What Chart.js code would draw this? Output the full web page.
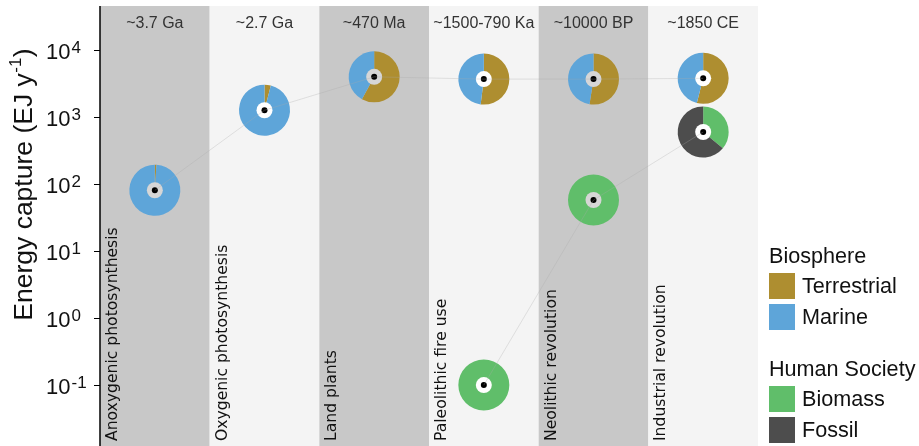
<!DOCTYPE html>
<html>
<head>
<meta charset="utf-8">
<script src="https://cdn.jsdelivr.net/npm/chart.js@4"></script>
<style>
  html, body { margin: 0; padding: 0; background: #fff; }
  #wrap { width: 919px; height: 446px; }
</style>
</head>
<body>
<div id="wrap"><canvas id="energyChart" width="919" height="446"></canvas></div>
<script>
// eras and their timing
var eras = ['Anoxygenic photosynthesis', 'Oxygenic photosynthesis', 'Land plants',
            'Paleolithic fire use', 'Neolithic revolution', 'Industrial revolution'];
var eraTimes = ['~3.7 Ga', '~2.7 Ga', '~470 Ma', '~1500-790 Ka', '~10000 BP', '~1850 CE'];

// energy capture, EJ per year
var biosphereTotal = [81, 1270, 4000, 3700, 3700, 3800];
var humanTotal = [null, null, null, 0.1, 58, 600];

// composition of each pie, percent
var terrestrialPct = [1, 4, 58, 52, 52.5, 54];
var marinePct = [99, 96, 42, 48, 47.5, 46];
var biomassPct = [null, null, null, 100, 100, 36];
var fossilPct = [null, null, null, 0, 0, 64];

var yTicks = [-1, 0, 1, 2, 3, 4];

var colors = {
    terrestrial: '#ae8e30',
    marine: '#5ea5d9',
    biomass: '#60be6a',
    fossil: '#4d4d4d'
};

var FONT = '"Liberation Sans", Arial, sans-serif';

function drawPie(ctx, x, y, parts) {
    var r = 25.5;
    var start = -Math.PI / 2;
    parts.forEach(function(p) {
        if (!p.v) return;
        var end = start + p.v / 100 * Math.PI * 2;
        ctx.beginPath();
        ctx.moveTo(x, y);
        ctx.arc(x, y, r, start, end);
        ctx.closePath();
        ctx.fillStyle = p.c;
        ctx.fill();
        start = end;
    });
}

var columnsPlugin = {
    id: 'columns',
    beforeDatasetsDraw: function(chart) {
        var ctx = chart.ctx, area = chart.chartArea;
        var xs = chart.scales.x, ys = chart.scales.y;
        var w = (area.right - area.left) / eras.length;
        ctx.save();
        // column backgrounds
        eras.forEach(function(e, i) {
            var cx = xs.getPixelForValue(i);
            ctx.fillStyle = i % 2 === 0 ? '#c8c8c8' : '#f4f4f4';
            ctx.fillRect(cx - w / 2, area.top, w, area.bottom - area.top);
        });
        // pies
        eras.forEach(function(e, i) {
            var cx = xs.getPixelForValue(i);
            var hole = i % 2 === 0 ? '#d6d6d6' : '#ffffff';
            var pts = [];
            if (biosphereTotal[i] != null) {
                pts.push(ys.getPixelForValue(biosphereTotal[i]));
                drawPie(ctx, cx, pts[pts.length - 1], [
                    {v: terrestrialPct[i], c: colors.terrestrial},
                    {v: marinePct[i], c: colors.marine}
                ]);
            }
            if (humanTotal[i] != null) {
                pts.push(ys.getPixelForValue(humanTotal[i]));
                drawPie(ctx, cx, pts[pts.length - 1], [
                    {v: biomassPct[i], c: colors.biomass},
                    {v: fossilPct[i], c: colors.fossil}
                ]);
            }
            pts.forEach(function(py) {
                ctx.beginPath();
                ctx.arc(cx, py, 8, 0, Math.PI * 2);
                ctx.fillStyle = hole;
                ctx.fill();
                ctx.beginPath();
                ctx.arc(cx, py, 3, 0, Math.PI * 2);
                ctx.fillStyle = '#000';
                ctx.fill();
            });
        });
        ctx.restore();
    },
    afterDraw: function(chart) {
        var ctx = chart.ctx, area = chart.chartArea;
        var xs = chart.scales.x, ys = chart.scales.y;
        var w = (area.right - area.left) / eras.length;
        ctx.save();
        // era times on top, era names rotated at the bottom
        eras.forEach(function(e, i) {
            var cx = xs.getPixelForValue(i);
            ctx.fillStyle = '#333';
            ctx.font = '16px ' + FONT;
            ctx.textAlign = 'center';
            ctx.textBaseline = 'alphabetic';
            ctx.fillText(eraTimes[i], cx, 28);

            ctx.save();
            ctx.translate(cx - w / 2 + 17, area.bottom - 5);
            ctx.rotate(-Math.PI / 2);
            ctx.fillStyle = '#111';
            ctx.font = '15.6px "DejaVu Sans", sans-serif';
            ctx.textAlign = 'left';
            ctx.fillText(e, 0, 0);
            ctx.restore();
        });

        // y axis
        ctx.strokeStyle = '#000';
        ctx.lineWidth = 1.5;
        ctx.beginPath();
        ctx.moveTo(area.left, area.top);
        ctx.lineTo(area.left, area.bottom);
        ctx.stroke();
        ctx.lineWidth = 1;
        yTicks.forEach(function(k) {
            var py = Math.round(ys.getPixelForValue(Math.pow(10, k))) + 0.5;
            ctx.beginPath();
            ctx.moveTo(area.left - 6, py);
            ctx.lineTo(area.left, py);
            ctx.stroke();
            ctx.fillStyle = '#111';
            ctx.textAlign = 'left';
            ctx.textBaseline = 'alphabetic';
            ctx.font = '22px ' + FONT;
            ctx.fillText('10', 46, py + 8);
            var w10 = ctx.measureText('10').width;
            ctx.font = '17px ' + FONT;
            ctx.fillText(String(k), 46 + w10 + 1, py + 2);
        });

        // axis title
        ctx.save();
        ctx.translate(32, 185);
        ctx.rotate(-Math.PI / 2);
        ctx.fillStyle = '#111';
        var t1 = 'Energy capture (EJ y', t2 = '-1', t3 = ')';
        ctx.font = '26.5px ' + FONT;
        var w1 = ctx.measureText(t1).width, w3 = ctx.measureText(t3).width;
        ctx.font = '17px ' + FONT;
        var w2 = ctx.measureText(t2).width;
        var x0 = -(w1 + w2 + w3) / 2;
        ctx.textAlign = 'left';
        ctx.font = '26.5px ' + FONT;
        ctx.fillText(t1, x0, 0);
        ctx.fillText(t3, x0 + w1 + w2 + 1, 0);
        ctx.font = '17px ' + FONT;
        ctx.fillText(t2, x0 + w1 + 0.5, -11);
        ctx.restore();

        // legend
        var lx = area.right + 11;
        ctx.textAlign = 'left';
        ctx.textBaseline = 'middle';
        ctx.font = '21.6px ' + FONT;
        ctx.fillStyle = '#111';
        ctx.fillText('Biosphere', lx, 257);
        ctx.fillText('Human Society', lx, 370);
        var items = [
            ['Terrestrial', colors.terrestrial, 273],
            ['Marine', colors.marine, 304],
            ['Biomass', colors.biomass, 386],
            ['Fossil', colors.fossil, 417]
        ];
        items.forEach(function(it) {
            ctx.fillStyle = it[1];
            ctx.fillRect(lx, it[2], 26, 26);
            ctx.fillStyle = '#111';
            ctx.fillText(it[0], lx + 33, it[2] + 14);
        });
        ctx.restore();
    }
};

var ctx = document.getElementById('energyChart').getContext('2d');
var energyChart = new Chart(ctx, {
    type: 'line',
    data: {
        labels: eras,
        datasets: [{
            label: 'Biosphere',
            data: biosphereTotal,
            borderColor: 'rgba(170, 170, 170, 0.3)',
            borderWidth: 1,
            pointRadius: 0,
            fill: false
        }, {
            label: 'Human Society',
            data: humanTotal,
            borderColor: 'rgba(170, 170, 170, 0.3)',
            borderWidth: 1,
            pointRadius: 0,
            fill: false
        }]
    },
    options: {
        responsive: false,
        animation: false,
        layout: {
            padding: { left: 100, right: 161, top: 6, bottom: 0 }
        },
        plugins: {
            legend: { display: false },
            tooltip: { enabled: false }
        },
        scales: {
            x: {
                type: 'category',
                offset: true,
                display: false
            },
            y: {
                type: 'logarithmic',
                min: Math.pow(10, -1.91),
                max: Math.pow(10, 4.66),
                display: false
            }
        }
    },
    plugins: [columnsPlugin]
});
</script>
</body>
</html>
